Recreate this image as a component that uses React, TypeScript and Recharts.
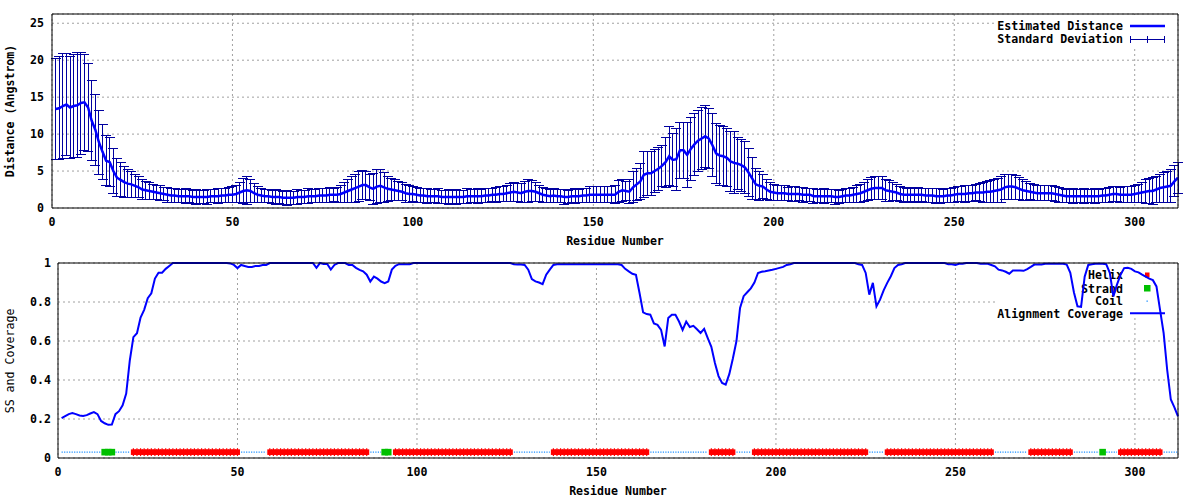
import React from 'react'
import { CartesianGrid, ComposedChart, Customized, ErrorBar, Line, Scatter, XAxis, YAxis } from 'recharts'

const FONT = 'DejaVu Sans Mono'
const LINE_BLUE = '#0000ff'
const BAR_NAVY = '#0000a0'
const HELIX_RED = '#ff0000'
const STRAND_GREEN = '#00c000'
const COIL_BLUE = '#1e90ff'
const GRID_GREY = '#a0a0a0'

const xTicks = [0, 50, 100, 150, 200, 250, 300]
const distTicks = [0, 5, 10, 15, 20, 25]
const covTicks = [0, 0.2, 0.4, 0.6, 0.8, 1]
const xDomain: [number, number] = [0, 312]
const distDomain: [number, number] = [0, 26.25]
const covDomain: [number, number] = [0, 1]

// estimated distance per residue (1..312)
const distance = [
  13.4, 13.5, 13.8, 14.0, 13.6, 13.8, 13.9, 14.2, 14.3, 13.6,
  11.8, 10.6, 8.9, 7.6, 6.4, 6.2, 5.0, 4.1, 3.8, 3.5,
  3.3, 3.2, 3.0, 2.8, 2.5, 2.4, 2.3, 2.2, 2.1, 2.0,
  1.9, 1.8, 1.7, 1.7, 1.6, 1.6, 1.6, 1.6, 1.5, 1.5,
  1.5, 1.5, 1.5, 1.6, 1.6, 1.6, 1.7, 1.7, 1.8, 1.8,
  1.9, 2.1, 2.3, 2.4, 2.3, 2.0, 1.8, 1.7, 1.6, 1.6,
  1.5, 1.5, 1.5, 1.4, 1.4, 1.4, 1.4, 1.5, 1.5, 1.5,
  1.6, 1.6, 1.6, 1.7, 1.7, 1.7, 1.8, 1.8, 1.8, 1.9,
  2.1, 2.3, 2.5, 2.7, 2.9, 3.1, 3.1, 2.8, 2.6, 2.9,
  3.0, 2.8, 2.6, 2.5, 2.4, 2.3, 2.2, 2.0, 1.9, 1.9,
  1.8, 1.7, 1.7, 1.6, 1.6, 1.6, 1.6, 1.5, 1.5, 1.5,
  1.5, 1.5, 1.5, 1.5, 1.6, 1.6, 1.6, 1.6, 1.6, 1.7,
  1.7, 1.8, 1.8, 1.9, 1.9, 2.0, 2.1, 2.2, 2.1, 2.0,
  2.2, 2.3, 2.3, 2.2, 2.0, 1.8, 1.7, 1.6, 1.7, 1.6,
  1.6, 1.5, 1.5, 1.6, 1.6, 1.6, 1.7, 1.7, 1.8, 1.8,
  1.8, 1.8, 1.8, 1.8, 1.8, 1.8, 2.2, 2.4, 2.3, 2.2,
  2.8, 3.2, 3.6, 4.5, 4.7, 4.7, 5.0, 5.3, 5.7, 6.2,
  7.0, 6.5, 6.6, 7.8, 7.8, 7.2, 8.0, 8.6, 9.1, 9.4,
  9.7, 9.4, 8.5, 7.4, 7.1, 7.0, 6.8, 6.3, 6.1, 6.0,
  5.8, 5.5, 4.8, 4.0, 3.2, 3.0, 2.9, 2.5, 2.2, 2.1,
  2.0, 2.0, 2.0, 1.9, 1.9, 1.9, 1.9, 1.8, 1.8, 1.8,
  1.6, 1.6, 1.6, 1.6, 1.6, 1.6, 1.5, 1.5, 1.6, 1.7,
  1.7, 1.8, 1.9, 2.0, 2.2, 2.4, 2.6, 2.7, 2.7, 2.7,
  2.4, 2.3, 2.2, 2.1, 1.9, 1.8, 1.8, 1.8, 1.8, 1.8,
  1.8, 1.7, 1.7, 1.7, 1.6, 1.6, 1.6, 1.7, 1.7, 1.8,
  1.9, 1.9, 1.9, 2.0, 2.0, 2.1, 2.1, 2.1, 2.2, 2.2,
  2.3, 2.4, 2.5, 2.8, 2.9, 2.9, 2.8, 2.6, 2.4, 2.3,
  2.2, 2.1, 2.0, 2.0, 2.0, 2.0, 2.0, 1.9, 1.8, 1.7,
  1.6, 1.6, 1.6, 1.6, 1.6, 1.6, 1.6, 1.6, 1.6, 1.6,
  1.7, 1.7, 1.8, 1.9, 1.9, 1.8, 1.8, 1.8, 1.8, 1.9,
  2.0, 2.1, 2.2, 2.3, 2.3, 2.5, 2.7, 2.8, 2.9, 3.0,
  3.6, 4.1,
]

// standard deviation per residue (1..312)
const stdDev = [
  6.8, 7.0, 7.1, 6.9, 6.9, 7.0, 7.1, 6.9, 6.5, 5.9,
  5.4, 4.8, 4.3, 3.7, 3.4, 3.3, 3.0, 2.6, 2.3, 2.1,
  1.9, 1.8, 1.6, 1.4, 1.3, 1.2, 1.1, 1.0, 1.0, 1.0,
  0.9, 1.0, 0.9, 1.0, 0.9, 0.9, 1.0, 0.9, 0.9, 1.0,
  0.9, 0.9, 1.0, 0.9, 0.9, 1.0, 0.9, 1.0, 1.0, 1.1,
  1.2, 1.4, 1.7, 1.9, 1.6, 1.3, 1.1, 1.0, 0.9, 0.9,
  0.9, 1.0, 0.9, 0.9, 1.0, 0.9, 0.9, 1.0, 0.9, 0.9,
  1.0, 0.9, 0.9, 1.0, 0.9, 1.0, 1.0, 0.9, 1.0, 1.1,
  1.3, 1.5, 1.7, 1.9, 2.0, 2.0, 1.9, 1.8, 2.1, 2.3,
  2.2, 2.0, 1.7, 1.5, 1.4, 1.3, 1.2, 1.2, 1.1, 1.0,
  1.0, 0.9, 0.9, 1.0, 0.9, 0.9, 1.0, 0.9, 0.9, 1.0,
  0.9, 1.0, 0.9, 0.9, 1.0, 0.9, 0.9, 1.0, 0.9, 1.0,
  1.0, 0.9, 1.0, 1.0, 1.0, 1.1, 1.2, 1.3, 1.2, 1.3,
  1.4, 1.5, 1.4, 1.3, 1.1, 1.0, 0.9, 0.9, 1.0, 0.9,
  0.9, 1.0, 0.9, 0.9, 1.0, 0.9, 1.0, 1.0, 1.1, 1.1,
  1.1, 1.1, 1.1, 1.1, 1.1, 1.2, 1.5, 1.5, 1.3, 1.6,
  2.1, 2.2, 2.4, 3.1, 3.0, 3.0, 2.9, 2.9, 2.8, 3.4,
  4.0, 3.6, 4.2, 3.8, 3.8, 4.4, 4.3, 4.2, 4.1, 4.2,
  4.2, 4.1, 4.3, 4.1, 4.1, 4.0, 3.9, 4.1, 4.2, 3.5,
  3.5, 3.5, 3.2, 2.9, 2.1, 2.0, 1.6, 1.4, 1.2, 1.1,
  1.0, 1.0, 1.0, 0.9, 1.0, 1.0, 0.9, 1.0, 0.9, 0.9,
  1.0, 0.9, 0.9, 1.0, 0.9, 0.9, 1.0, 0.9, 0.9, 1.0,
  1.0, 1.0, 1.1, 1.2, 1.3, 1.4, 1.5, 1.5, 1.5, 1.5,
  1.5, 1.4, 1.2, 1.1, 1.0, 1.0, 0.9, 1.0, 0.9, 1.0,
  0.9, 1.0, 1.0, 0.9, 1.0, 1.0, 0.9, 1.0, 1.0, 1.0,
  1.0, 1.0, 1.1, 1.1, 1.1, 1.1, 1.2, 1.3, 1.4, 1.5,
  1.5, 1.6, 1.7, 1.7, 1.7, 1.7, 1.6, 1.5, 1.4, 1.3,
  1.1, 1.1, 1.0, 1.0, 1.0, 1.0, 1.0, 1.0, 1.0, 0.9,
  0.9, 0.9, 1.0, 0.9, 0.9, 1.0, 0.9, 0.9, 1.0, 0.9,
  0.9, 1.0, 1.0, 1.0, 1.0, 1.0, 1.1, 1.1, 1.1, 1.1,
  1.2, 1.4, 1.6, 1.7, 1.8, 1.8, 1.9, 2.0, 2.1, 2.2,
  2.1, 2.1,
]

// alignment coverage per residue (1..312)
const coverage = [
  0.205, 0.215, 0.225, 0.23, 0.225, 0.218, 0.215, 0.22, 0.228, 0.235,
  0.225, 0.19, 0.178, 0.17, 0.172, 0.225, 0.24, 0.27, 0.33, 0.5,
  0.62, 0.64, 0.72, 0.76, 0.82, 0.845, 0.92, 0.95, 0.95, 0.97,
  0.985, 1, 1, 1, 1, 1, 1, 1, 1, 1,
  1, 1, 1, 1, 1, 1, 1, 0.998, 0.99, 0.974,
  0.99, 0.985, 0.98, 0.98, 0.985, 0.985, 0.99, 0.99, 1, 1,
  1, 1, 1, 1, 1, 1, 1, 1, 1, 1,
  1, 0.975, 1, 0.995, 0.995, 0.966, 0.99, 1, 1, 1,
  0.99, 0.99, 0.975, 0.965, 0.957, 0.94, 0.905, 0.93, 0.92, 0.905,
  0.897, 0.905, 0.966, 0.986, 0.994, 0.994, 0.994, 0.994, 1, 1,
  1, 1, 1, 1, 1, 1, 1, 1, 1, 1,
  1, 1, 1, 1, 1, 1, 1, 1, 1, 1,
  1, 1, 1, 1, 1, 1, 0.994, 0.992, 0.992, 0.99,
  0.966, 0.918, 0.906, 0.9, 0.892, 0.94, 0.966, 0.99, 0.994, 0.994,
  0.994, 0.994, 0.994, 0.994, 0.994, 0.994, 0.994, 0.994, 0.994, 0.994,
  0.994, 0.994, 0.994, 0.994, 0.994, 0.994, 0.99, 0.97, 0.957, 0.945,
  0.94, 0.846, 0.747, 0.738, 0.735, 0.69, 0.683, 0.657, 0.572, 0.718,
  0.735, 0.735, 0.7, 0.657, 0.7, 0.672, 0.678, 0.66, 0.641, 0.662,
  0.615, 0.57, 0.487, 0.42, 0.385, 0.376, 0.43, 0.51, 0.6, 0.77,
  0.83, 0.85, 0.87, 0.9, 0.949, 0.955, 0.958, 0.962, 0.965, 0.97,
  0.975, 0.98, 0.99, 0.994, 1, 1, 1, 1, 1, 1,
  1, 1, 1, 1, 1, 1, 1, 1, 1, 1,
  1, 1, 0.994, 0.99, 0.949, 0.838, 0.898, 0.778, 0.812, 0.86,
  0.898, 0.932, 0.974, 0.99, 0.994, 1, 1, 1, 1, 1,
  1, 1, 1, 1, 1, 1, 1, 0.994, 0.994, 0.99,
  0.996, 0.996, 1, 1, 1, 1, 0.996, 0.996, 0.996, 0.99,
  0.983, 0.966, 0.962, 0.955, 0.945, 0.962, 0.962, 0.962, 0.96, 0.969,
  0.98, 0.992, 0.992, 0.992, 0.996, 0.996, 0.996, 0.996, 0.996, 0.996,
  0.992, 0.95, 0.85, 0.778, 0.775, 0.93, 0.99, 0.994, 0.996, 0.996,
  0.996, 0.994, 0.95, 0.829, 0.889, 0.94, 0.974, 0.976, 0.97, 0.957,
  0.952, 0.94, 0.93, 0.92, 0.912, 0.88, 0.76, 0.64, 0.45, 0.3,
  0.26, 0.214,
]

// secondary structure: [type, first residue, last residue]
const ssSegments: [string, number, number][] = [
  ['C', 1, 12], ['E', 13, 15], ['C', 16, 20], ['H', 21, 50], ['C', 51, 58],
  ['H', 59, 86], ['C', 87, 90], ['E', 91, 92], ['C', 93, 93], ['H', 94, 126],
  ['C', 127, 137], ['H', 138, 164], ['C', 165, 181], ['H', 182, 188], ['C', 189, 193],
  ['H', 194, 225], ['C', 226, 230], ['H', 231, 260], ['C', 261, 270], ['H', 271, 282],
  ['C', 283, 290], ['E', 291, 291], ['C', 292, 295], ['H', 296, 307], ['C', 308, 312],
]
const SS_LEVEL = 0.03

const ssByResidue: string[] = []
ssSegments.forEach(([t, a, b]) => {
  for (let r = a; r <= b; r++) ssByResidue[r - 1] = t
})

const topData = distance.map((d, i) => ({ r: i + 1, dist: d, std: stdDev[i] }))
const covData = coverage.map((c, i) => ({
  r: i + 1,
  cov: c,
  coil: ssByResidue[i] === 'C' ? SS_LEVEL : null,
}))
const helixPts = ssByResidue.map((t, i) => ({ r: i + 1, t, ss: SS_LEVEL })).filter((p) => p.t === 'H')
const strandPts = ssByResidue.map((t, i) => ({ r: i + 1, t, ss: SS_LEVEL })).filter((p) => p.t === 'E')

const tickFont = { fontFamily: FONT, fontSize: 11.6, fontWeight: 700, fill: '#000' }
const keyFont = { fontFamily: FONT, fontSize: 11.6, fontWeight: 700 }

function AxisTitle({ x, y, text, rotate, bold = true }: any) {
  return (
    <text
      x={x}
      y={y}
      textAnchor="middle"
      fill="#000"
      transform={rotate ? `rotate(-90 ${x} ${y})` : undefined}
      style={{ fontFamily: FONT, fontSize: 11.6, fontWeight: bold ? 700 : 400 }}
    >
      {text}
    </text>
  )
}

// inward tick marks on all four sides plus the top/right frame lines
function frameAxes(yDomain: [number, number], yTicks: number[]) {
  const common = { tick: false, tickLine: { stroke: '#000' }, tickSize: 6, mirror: true, interval: 0 as const }
  return [
    <XAxis key="xb" xAxisId="xb" orientation="bottom" type="number" dataKey="r" domain={xDomain} ticks={xTicks} height={10} axisLine={false} {...common} />,
    <XAxis key="xt" xAxisId="xt" orientation="top" type="number" dataKey="r" domain={xDomain} ticks={xTicks} height={10} axisLine={{ stroke: '#000' }} {...common} />,
    <YAxis key="yl" yAxisId="yl" orientation="left" type="number" domain={yDomain} ticks={yTicks} width={10} axisLine={false} {...common} />,
    <YAxis key="yr" yAxisId="yr" orientation="right" type="number" domain={yDomain} ticks={yTicks} width={10} axisLine={{ stroke: '#000' }} {...common} />,
  ]
}

function TopKey() {
  return (
    <g>
      <AxisTitle x={615} y={245} text="Residue Number" />
      <AxisTitle x={14} y={111} rotate text="Distance (Angstrom)" />
      <rect x={997} y={15} width={180} height={31} fill="#fff" />
      <text x={1123} y={30} textAnchor="end" fill="#000" style={keyFont}>Estimated Distance</text>
      <line x1={1130} x2={1165} y1={26} y2={26} stroke={LINE_BLUE} strokeWidth={2.5} />
      <text x={1123} y={43} textAnchor="end" fill="#000" style={keyFont}>Standard Deviation</text>
      <line x1={1130} x2={1165} y1={39.5} y2={39.5} stroke={BAR_NAVY} />
      <line x1={1130.5} x2={1130.5} y1={36} y2={43} stroke={BAR_NAVY} />
      <line x1={1164.5} x2={1164.5} y1={36} y2={43} stroke={BAR_NAVY} />
      <line x1={1147.5} x2={1147.5} y1={36} y2={43} stroke={BAR_NAVY} />
    </g>
  )
}

function BottomKey() {
  return (
    <g>
      <AxisTitle x={618} y={245} text="Residue Number" />
      <AxisTitle x={14} y={111} rotate bold={false} text="SS and Coverage" />
      <rect x={997} y={15} width={180} height={52} fill="#fff" />
      <text x={1123} y={29} textAnchor="end" fill="#000" style={keyFont}>Helix</text>
      <rect x={1145} y={22.5} width={4.5} height={5} fill={HELIX_RED} />
      <text x={1123} y={42.5} textAnchor="end" fill="#000" style={keyFont}>Strand</text>
      <rect x={1144} y={35} width={6.5} height={6.5} fill={STRAND_GREEN} />
      <text x={1123} y={55} textAnchor="end" fill="#000" style={keyFont}>Coil</text>
      <rect x={1146.5} y={50.5} width={1.3} height={1.3} fill={COIL_BLUE} />
      <text x={1123} y={67.5} textAnchor="end" fill="#000" style={keyFont}>Alignment Coverage</text>
      <line x1={1130} x2={1165} y1={63.3} y2={63.3} stroke={LINE_BLUE} strokeWidth={2} />
    </g>
  )
}

const HelixMark = (p: any) => (
  <g>
    <rect x={p.cx - 2.5} y={p.cy - 2.8} width={5} height={5.6} fill={HELIX_RED} />
    <rect x={p.cx - 0.6} y={p.cy - 3.9} width={1.2} height={7.8} fill={HELIX_RED} />
  </g>
)

const StrandMark = (p: any) => (
  <rect x={p.cx - 3.3} y={p.cy - 3.3} width={6.6} height={6.6} fill={STRAND_GREEN} />
)

export default function App() {
  return (
    <div style={{ position: 'absolute', left: 0, top: 0, width: 1200, height: 500, background: '#fff' }}>
      <ComposedChart width={1200} height={250} data={topData} margin={{ top: 14, right: 22, bottom: 0, left: 0 }}>
        <CartesianGrid stroke={GRID_GREY} strokeDasharray="2 3" />
        <Customized component={<TopKey />} />
        <XAxis
          dataKey="r"
          type="number"
          domain={xDomain}
          ticks={xTicks}
          interval={0}
          height={42}
          tickLine={false}
          tickSize={0}
          tickMargin={10}
          axisLine={{ stroke: '#000' }}
          tick={tickFont}
        />
        <YAxis
          type="number"
          domain={distDomain}
          ticks={distTicks}
          interval={0}
          width={52}
          tickLine={false}
          tickSize={0}
          tickMargin={8}
          axisLine={{ stroke: '#000' }}
          tick={tickFont}
        />
        {frameAxes(distDomain, distTicks)}
        <Line
          dataKey="dist"
          type="linear"
          stroke={LINE_BLUE}
          strokeWidth={2.5}
          dot={false}
          activeDot={false}
          isAnimationActive={false}
        >
          <ErrorBar
            dataKey="std"
            direction="y"
            width={5}
            stroke={BAR_NAVY}
            strokeWidth={1}
            shapeRendering="crispEdges"
            isAnimationActive={false}
          />
        </Line>
      </ComposedChart>

      <ComposedChart width={1200} height={250} data={covData} margin={{ top: 13, right: 22, bottom: 0, left: 0 }}>
        <CartesianGrid stroke={GRID_GREY} strokeDasharray="2 3" />
        <Customized component={<BottomKey />} />
        <XAxis
          dataKey="r"
          type="number"
          domain={xDomain}
          ticks={xTicks}
          interval={0}
          height={42}
          tickLine={false}
          tickSize={0}
          tickMargin={10}
          axisLine={{ stroke: '#000' }}
          tick={tickFont}
        />
        <YAxis
          type="number"
          domain={covDomain}
          ticks={covTicks}
          interval={0}
          width={58}
          tickLine={false}
          tickSize={0}
          tickMargin={7}
          axisLine={{ stroke: '#000' }}
          tick={tickFont}
        />
        {frameAxes(covDomain, covTicks)}
        <Line
          dataKey="coil"
          type="linear"
          stroke={COIL_BLUE}
          strokeWidth={1.3}
          strokeDasharray="1.2 1.3"
          dot={false}
          activeDot={false}
          connectNulls={false}
          isAnimationActive={false}
        />
        <Scatter data={helixPts} dataKey="ss" shape={HelixMark} isAnimationActive={false} />
        <Scatter data={strandPts} dataKey="ss" shape={StrandMark} isAnimationActive={false} />
        <Line
          dataKey="cov"
          type="linear"
          stroke={LINE_BLUE}
          strokeWidth={2}
          dot={false}
          activeDot={false}
          isAnimationActive={false}
        />
      </ComposedChart>
    </div>
  )
}
